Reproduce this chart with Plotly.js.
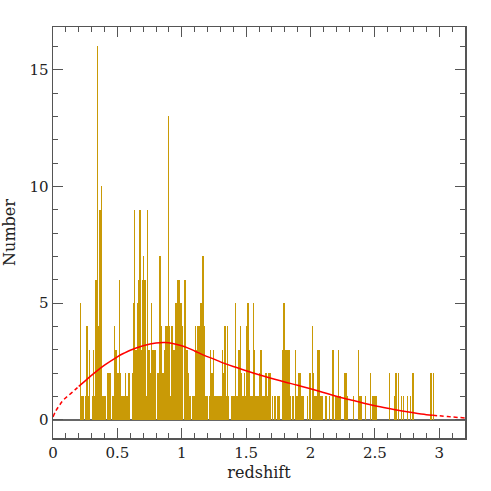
<!DOCTYPE html>
<html>
<head>
<meta charset="utf-8">
<script src="https://cdn.plot.ly/plotly-3.0.1.min.js"></script>
<style>html,body{margin:0;padding:0;background:#fff;}#chart{width:491px;height:491px;}</style>
</head>
<body>
<div id="chart"></div>
<script>
// Histogram bins (left edge of 0.01-wide redshift bin) and counts; empty bins omitted
const binLeft = [
0.21,0.22,0.23,0.25,0.26,0.27,0.28,0.30,0.31,0.32,0.33,0.34,0.35,0.36,0.37,0.38,0.39,0.40,0.42,0.43,0.44,0.46,0.47,0.48,0.49,0.50,0.51,0.52,0.53,0.54,0.55,
0.56,0.57,0.58,0.59,0.61,0.62,0.63,0.64,0.65,0.66,0.67,0.68,0.69,0.70,0.71,0.72,0.73,0.74,0.75,0.76,0.77,0.78,0.79,0.81,0.82,0.83,0.84,0.85,0.86,0.87,0.88,0.89,0.90,0.91,
0.92,0.93,0.94,0.95,0.96,0.97,0.98,0.99,1.00,1.02,1.03,1.04,1.05,1.06,1.08,1.09,1.10,1.11,1.12,1.13,1.14,1.15,1.16,1.17,1.18,1.19,1.21,1.22,1.23,1.24,1.25,1.26,1.27,1.28,1.29,
1.30,1.31,1.32,1.33,1.34,1.35,1.36,1.38,1.39,1.40,1.41,1.42,1.43,1.44,1.45,1.46,1.47,1.48,1.49,1.50,1.51,1.52,1.53,1.54,1.55,1.56,1.57,1.58,1.59,1.60,1.61,1.62,1.63,1.64,1.65,1.66,1.67,
1.68,1.70,1.72,1.74,1.75,1.78,1.79,1.80,1.81,1.82,1.83,1.84,1.86,1.88,1.89,1.90,1.91,1.92,1.93,1.94,1.97,1.99,2.01,2.02,2.03,2.04,
2.05,2.06,2.07,2.08,2.09,2.11,2.12,2.14,2.17,2.19,2.20,2.21,2.22,2.23,2.26,2.27,2.28,2.33,2.37,2.38,2.39,
2.42,2.46,2.48,2.49,2.50,2.51,2.61,2.65,2.66,2.68,2.70,2.72,2.75,2.77,2.79,2.93,2.95
];
const binCount = [
5,1,1,1,4,1,3,1,3,1,6,16,4,9,10,1,1,1,2,2,2,1,4,3,3,2,6,2,1,1,1,
2,1,2,2,2,5,9,3,5,6,9,3,6,7,6,1,9,3,2,5,3,3,3,2,7,7,4,2,3,4,4,13,4,1,
4,3,3,5,6,6,6,5,4,6,3,3,2,1,1,1,4,3,4,4,5,5,7,4,1,1,1,3,2,3,1,1,1,1,1,
1,3,2,4,1,4,1,1,1,1,5,1,1,3,4,2,1,2,1,4,5,3,1,1,5,3,1,1,1,2,3,1,1,1,2,1,2,
2,1,1,1,1,3,5,3,3,3,3,1,1,3,1,2,2,2,1,1,1,2,4,2,1,1,
3,3,1,1,1,1,1,1,3,1,1,3,1,1,2,2,1,1,3,1,1,
1,2,1,1,1,1,2,1,2,2,1,1,1,1,2,2,2
];
const binWidth = 0.01;

// Smooth model curve
const curveZ = [0,0.02,0.05,0.08,0.12,0.17,0.2,0.25,0.32,0.4,0.5,0.55,0.6,0.7,0.8,0.87,0.93,1.0,1.05,1.1,1.17,1.25,1.3,1.4,1.5,1.6,1.7,1.8,1.9,2.0,2.1,2.2,2.3,2.4,2.5,2.6,2.7,2.8,2.9,2.95,3.0,3.1,3.2];
const curveN = [0.12,0.36,0.62,0.84,1.04,1.28,1.43,1.67,2.0,2.34,2.7,2.85,2.98,3.17,3.29,3.31,3.27,3.17,3.07,2.95,2.77,2.6,2.48,2.28,2.1,1.93,1.77,1.62,1.48,1.33,1.17,1.01,0.87,0.73,0.6,0.49,0.39,0.3,0.22,0.19,0.17,0.12,0.08];
const solidFrom = 0.2, solidTo = 2.95;

const xTicks = [0,0.5,1,1.5,2,2.5,3];
const yTicks = [0,5,10,15];

function pick(cond){
  const x=[],y=[];
  curveZ.forEach((z,i)=>{ if(cond(z)){x.push(z);y.push(curveN[i]);} });
  return {x,y};
}
const left = pick(z=>z<=solidFrom), mid = pick(z=>z>=solidFrom && z<=solidTo), right = pick(z=>z>=solidTo);

const traces = [
  {type:'bar', x:binLeft.map(z=>z+binWidth/2), y:binCount, width:binWidth,
   marker:{color:'#C99A06', line:{width:0}}, hoverinfo:'x+y'},
  {type:'scatter', mode:'lines', x:left.x, y:left.y, line:{color:'#ff0000', width:1.5, dash:'4px,3px', shape:'spline'}},
  {type:'scatter', mode:'lines', x:mid.x, y:mid.y, line:{color:'#ff0000', width:1.5, shape:'spline'}},
  {type:'scatter', mode:'lines', x:right.x, y:right.y, line:{color:'#ff0000', width:1.5, dash:'4px,3px', shape:'spline'}}
];

const axisFont = {family:'DejaVu Serif', size:15, color:'#222'};
const common = {
  ticks:'inside', ticklen:10, tickwidth:1, tickcolor:'#555',
  showline:true, linecolor:'#555', linewidth:1.5, mirror:'allticks',
  showgrid:false, tickfont:axisFont
};
const layout = {
  width:491, height:491,
  margin:{l:53, r:26, t:27, b:53, pad:0},
  paper_bgcolor:'#fff', plot_bgcolor:'#fff',
  showlegend:false, bargap:0,
  xaxis:Object.assign({}, common, {
    range:[0,3.2], tickvals:xTicks, ticktext:xTicks.map(String), zeroline:false,
    minor:{dtick:0.1, tick0:0, ticks:'inside', ticklen:5, tickcolor:'#555', tickwidth:1},
    title:{text:'redshift', font:{family:'DejaVu Serif', size:16, color:'#222'}, standoff:6}
  }),
  yaxis:Object.assign({}, common, {
    range:[-0.78,16.83], tickvals:yTicks, ticktext:yTicks.map(String),
    zeroline:true, zerolinecolor:'#666', zerolinewidth:2,
    minor:{dtick:1, tick0:0, ticks:'inside', ticklen:5, tickcolor:'#555', tickwidth:1},
    title:{text:'Number', font:{family:'DejaVu Serif', size:16, color:'#222'}, standoff:10}
  })
};
Plotly.newPlot('chart', traces, layout, {displayModeBar:false, staticPlot:true});
</script>
</body>
</html>
